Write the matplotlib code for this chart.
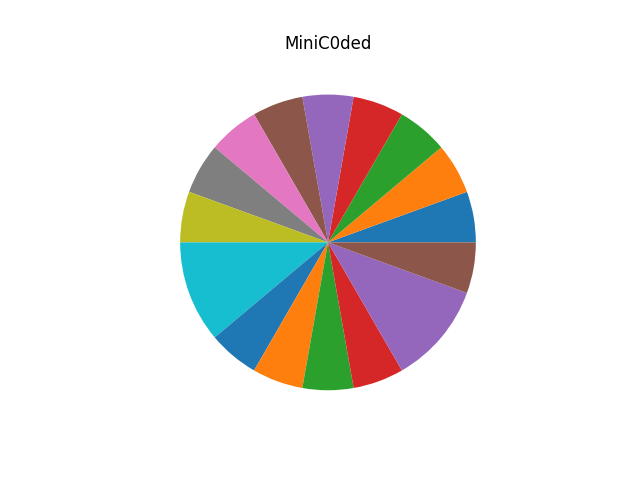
import matplotlib
matplotlib.use('Agg')
import matplotlib.pyplot as plt

# slice sizes (counter-clockwise from 3 o'clock)
sizes = [1, 1, 1, 1, 1, 1, 1, 1, 1, 2, 1, 1, 1, 1, 2, 1]
title = 'MiniC0ded'

fig, ax = plt.subplots(figsize=(6.4, 4.8), dpi=100)
ax.pie(sizes)
ax.set_title(title)
fig.savefig('out.png')
